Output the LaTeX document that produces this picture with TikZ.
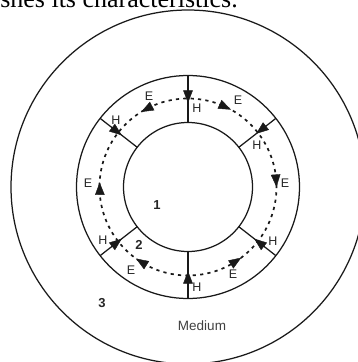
\documentclass[tikz,border=0pt]{standalone}
\usepackage{fontspec}
\setmainfont{Liberation Sans}
\newfontfamily\bookserif{Liberation Serif}
\usetikzlibrary{arrows.meta}
\begin{document}
\begin{tikzpicture}[x=1pt,y=1pt,
  ring/.style={line width=1.25pt, draw=black!90},
  spoke/.style={line width=1.25pt, draw=black!90},
  field/.style={line width=1.7pt, draw=black!90, dash pattern=on 3.2pt off 4.2pt},
  tipE/.style={-{Triangle[length=12.5pt,width=9.5pt]}, line width=0.4pt, draw=black!90, fill=black!90},
  tipH/.style={-{Triangle[length=12.5pt,width=9.5pt]}, line width=0.4pt, draw=black!90, fill=black!90},
  lab/.style={font=\fontsize{12.5}{12.5}\selectfont, text=black!85, inner sep=0pt},
  num/.style={font=\fontsize{13}{13}\selectfont\bfseries, text=black!85, inner sep=0pt},
  medium/.style={font=\fontsize{13.5}{13.5}\selectfont, text=black!75, inner sep=0pt}]
\useasboundingbox (-188,-175) rectangle (170,187);
\clip (-188,-175) rectangle (170,187);
\node[anchor=base east, font=\bookserif\fontsize{26}{26}\selectfont, inner sep=0pt] (caption) at (50,179.5) {establishes its characteristics.};
% circles
\draw[ring] (0,0) circle[radius=177];
\draw[ring] (0,0) circle[radius=111.5];
\draw[ring] (0,0) circle[radius=64.5];
\draw[field] (0,0) circle[radius=88.5];
% spokes
\foreach \a in {90,38,142,218,322,270}
  \draw[spoke] (\a:64.5) -- (\a:111.5);
% H arrows (inward)
\foreach \a in {90,142,218,322,270}
  \draw[tipH] (\a:96.5) -- (\a:84);
\draw[tipH] (38:99) -- (38:86.5);
% E arrows
\draw[tipE] (114:88.5) -- (122:88.5);
\draw[tipE] (69:88.5) -- (61:88.5);
\draw[tipE] (8:88.5) -- (0:88.5);
\draw[tipE] (-61:88.5) -- (-53:88.5);
\draw[tipE] (242:88.5) -- (234:88.5);
\draw[tipE] (185:88.5) -- (177:88.5);
% E labels
\node[lab] (e1) at (-39,91) {E};
\node[lab] (e2) at (50,87) {E};
\node[lab] (e3) at (97,4) {E};
\node[lab] (e4) at (45,-87) {E};
\node[lab] (e5) at (-57,-83) {E};
\node[lab] (e6) at (-100,4) {E};
% H labels
\node[lab] (h1) at (9,79) {H};
\node[lab] (h2) at (69,42) {H};
\node[lab] (h3) at (-72,67) {H};
\node[lab] (h4) at (-85,-53) {H};
\node[lab] (h5) at (85,-54) {H};
\node[lab] (h6) at (9,-100) {H};
% region labels
\node[num] (r1) at (-31,-18) {1};
\node[num] (r2) at (-49,-58) {2};
\node[num] (r3) at (-86,-116) {3};
\node[medium] (med) at (14,-139) {Medium};
\end{tikzpicture}
\end{document}
